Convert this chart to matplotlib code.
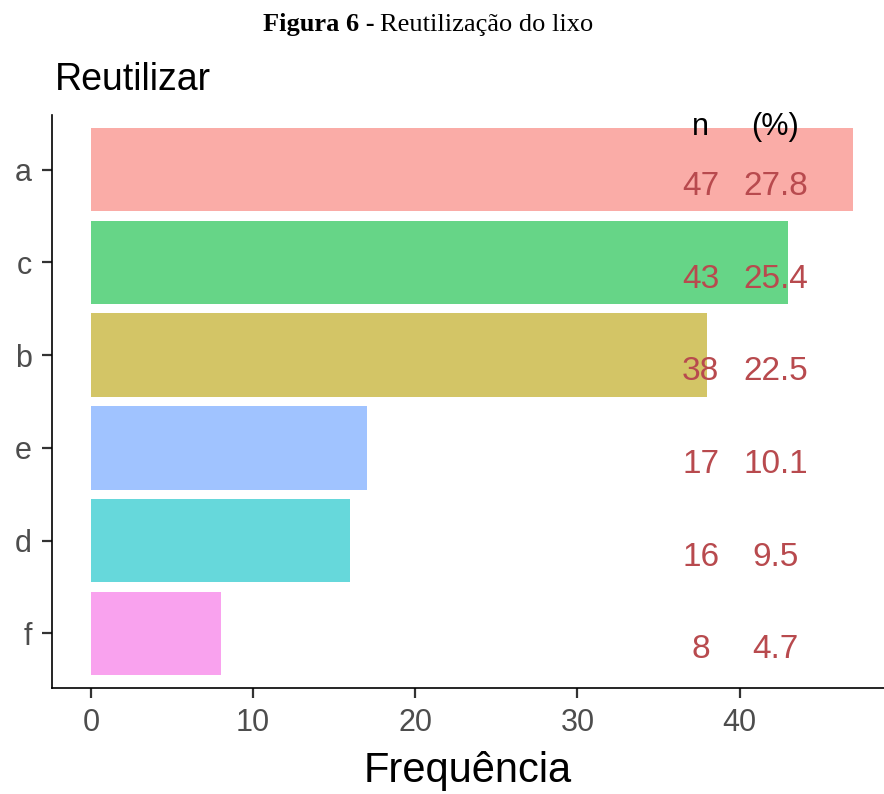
import matplotlib
matplotlib.use("Agg")
import matplotlib.pyplot as plt

# ---------- data ----------
categories = ["a", "c", "b", "e", "d", "f"]
counts = [47, 43, 38, 17, 16, 8]
percents = [27.8, 25.4, 22.5, 10.1, 9.5, 4.7]
bar_colors = ["#F8766D", "#00BA38", "#B79F00", "#619CFF", "#00BFC4", "#F564E3"]

n_col_x = 37.6
pct_col_x = 42.2

fig = plt.figure(figsize=(8.84, 7.94), dpi=100)
ax = fig.add_axes([52 / 884, 1 - 688 / 794, 1 - 52 / 884, (688 - 115) / 794])

ypos = list(range(len(categories)))
ax.barh(ypos, counts, height=0.9, color=bar_colors, alpha=0.6, linewidth=0)

text_col = "#B84A4E"
for y, n, p in zip(ypos, counts, percents):
    ax.text(n_col_x, y + 0.18, "%d" % n, color=text_col, fontsize=24,
            ha="center", va="center", family="Liberation Sans")
    ax.text(pct_col_x, y + 0.18, "%.1f" % p, color=text_col, fontsize=24,
            ha="center", va="center", family="Liberation Sans")
ax.text(n_col_x, -0.46, "n", color="black", fontsize=22, ha="center", va="center",
        family="Liberation Sans")
ax.text(pct_col_x, -0.46, "(%)", color="black", fontsize=22, ha="center", va="center",
        family="Liberation Sans")

ax.set_xlim(-2.4, 48.9)
ax.set_ylim(5.59, -0.59)
ax.set_yticks(ypos)
ax.set_yticklabels(categories)
ax.set_xticks([0, 10, 20, 30, 40])

for s in ["top", "right"]:
    ax.spines[s].set_visible(False)
for s in ["left", "bottom"]:
    ax.spines[s].set_linewidth(1.2)
    ax.spines[s].set_color("black")

ax.tick_params(axis="both", length=7.5, width=1.6, color="#333333",
               labelcolor="#4D4D4D", labelsize=22, pad=7)
for lab in ax.get_xticklabels() + ax.get_yticklabels():
    lab.set_family("Liberation Sans")

ax.set_xlabel("Frequência", fontsize=30, family="Liberation Sans", labelpad=9)

fig.text(55 / 884, 1 - 90 / 794, "Reutilizar", fontsize=27, family="Liberation Sans",
         ha="left", va="baseline")

cap_y = 1 - 31 / 794
fig.text(0.424, cap_y, "Figura 6 -", fontsize=19, family="Liberation Serif",
         weight="bold", ha="right", va="baseline")
fig.text(0.430, cap_y, "Reutilização do lixo", fontsize=19,
         family="Liberation Serif", ha="left", va="baseline")

fig.savefig("out.png", dpi=100)
